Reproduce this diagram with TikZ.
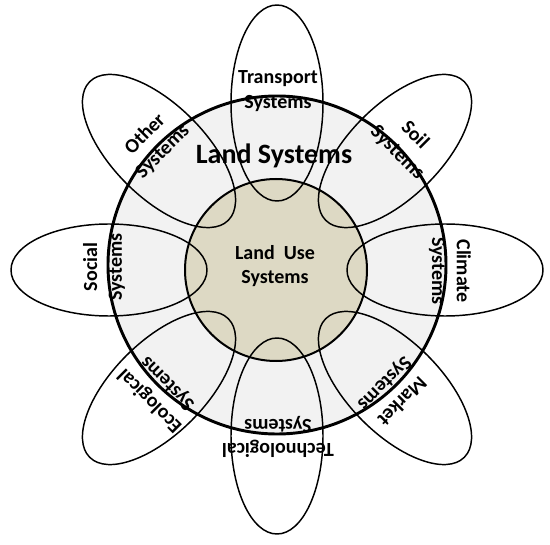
\documentclass[tikz,border=0pt]{standalone}
\usepackage{fontspec}
\setmainfont{Carlito}
\definecolor{landgray}{RGB}{242,242,242}
\definecolor{landtan}{RGB}{221,217,196}
\tikzset{every picture/.style={line width=0.75pt}}
\tikzset{
  petal/.style={draw=black, line width=1.1pt},
  lbl/.style={align=center, font=\bfseries\fontsize{15}{18.5}\selectfont, inner sep=0pt},
}

\begin{document}
\begin{tikzpicture}[x=0.75pt,y=0.75pt,yscale=-1,xscale=1]
%set diagram left start at 0, and has height of 545
\path[use as bounding box] (0,0) rectangle (550,545);

%Shape: Circle [Land Systems]
\draw [fill=landgray, line width=2.2pt] (277,265) circle (169);
%Shape: Circle [Land Use Systems]
\draw [fill=landtan, line width=1.5pt] (276,270) circle (91);

%Shape: Ellipse [top]
\draw [petal] (277,103) ellipse (46 and 98);
%Shape: Ellipse [bottom]
\draw [petal] (277,436) ellipse (46 and 98);
%Shape: Ellipse [left]
\draw [petal] (109,270) ellipse (98 and 46);
%Shape: Ellipse [right]
\draw [petal] (445,270) ellipse (98 and 46);
%Shape: Ellipse [upper left]
\draw [petal, rotate around={-45:(159,151)}] (159,151) ellipse (46 and 98);
%Shape: Ellipse [upper right]
\draw [petal, rotate around={45:(395,151)}] (395,151) ellipse (46 and 98);
%Shape: Ellipse [lower left]
\draw [petal, rotate around={45:(159,388)}] (159,388) ellipse (46 and 98);
%Shape: Ellipse [lower right]
\draw [petal, rotate around={-45:(395,388)}] (395,388) ellipse (46 and 98);

% Text Node
\draw (274,156) node (land) [lbl, font=\bfseries\fontsize{21}{25}\selectfont] {Land Systems};
% Text Node
\draw (275,266) node (landuse) [lbl] {Land~~Use\\Systems};
% Text Node
\draw (278,91) node (transport) [lbl] {Transport\\Systems};
% Text Node
\draw (406,144) node (soil) [lbl, rotate=-45] {Soil\\Systems};
% Text Node
\draw (450,271) node (climate) [lbl, rotate=-90] {Climate\\Systems};
% Text Node
\draw (393,392) node (market) [lbl, rotate=-135] {Market\\Systems};
% Text Node
\draw (278,437) node (techno) [lbl, rotate=180] {Technological\\Systems};
% Text Node
\draw (159,392) node (eco) [lbl, rotate=135] {Ecological\\Systems};
% Text Node
\draw (104,267) node (social) [lbl, rotate=90] {Social\\Systems};
% Text Node
\draw (154,143) node (other) [lbl, rotate=45] {Other\\Systems};

\end{tikzpicture}
\end{document}
